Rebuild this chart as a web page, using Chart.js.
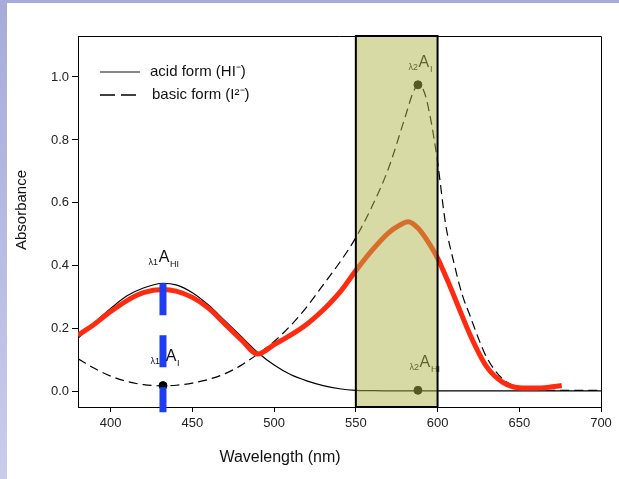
<!DOCTYPE html>
<html>
<head>
<meta charset="utf-8">
<script src="https://cdn.jsdelivr.net/npm/chart.js@4.4.0/dist/chart.umd.min.js"></script>
<style>
body { margin: 0; background: #fff; }
#wrap { width: 619px; height: 479px; }
</style>
</head>
<body>
<div id="wrap"><canvas id="myChart"></canvas></div>
<script>
// acid form (HI-), solid black
const acidWavelengths = [380,390,400,410,420,432,440,450,460,470,480,490,500,510,520,530,540,550,560,580,600,650,700];
const acidForm =        [0.17,0.22,0.265,0.305,0.33,0.345,0.34,0.315,0.275,0.225,0.175,0.125,0.085,0.055,0.035,0.02,0.01,0.005,0.004,0.003,0.003,0.003,0.003];

// basic form (I2-), dashed black
const basicWavelengths = [380,390,400,410,420,432,440,450,460,470,480,490,500,510,520,530,540,550,560,570,580,585,588,592,596,600,605,610,615,620,625,630,640,650,660,680,700];
const basicForm =        [0.105,0.075,0.05,0.033,0.023,0.019,0.021,0.028,0.04,0.058,0.085,0.12,0.16,0.21,0.27,0.34,0.41,0.49,0.59,0.71,0.87,0.95,0.975,0.95,0.86,0.73,0.53,0.41,0.31,0.24,0.17,0.11,0.04,0.015,0.008,0.005,0.005];

// red trace (mixture)
const mixWavelengths = [380,390,400,410,420,432,440,450,460,470,480,490,500,510,520,530,540,550,560,570,577,582,588,595,600,606,612,620,630,640,650,660,670,676];
const mixTrace =       [0.18,0.215,0.255,0.29,0.315,0.325,0.32,0.3,0.265,0.215,0.165,0.12,0.15,0.18,0.215,0.26,0.315,0.385,0.45,0.505,0.53,0.54,0.52,0.47,0.425,0.355,0.28,0.18,0.08,0.03,0.013,0.012,0.016,0.02];

// marked points and the λ1 guide line
const markerX = [432, 588, 588];
const markerY = [0.02, 0.975, 0.005];
const guideX = [432, 432];
const guideY = [0.345, -0.065];

const xTicks = [400, 450, 500, 550, 600, 650, 700];
const yTicks = [0.0, 0.2, 0.4, 0.6, 0.8, 1.0];
const bandRange = [550, 600];

const pts = (xs, ys) => xs.map((x, i) => ({x: x, y: ys[i]}));
const FONT = "'Liberation Sans', Arial, sans-serif";

function drawA(ctx, px, py, pre, sub, gap) {
    ctx.textBaseline = 'alphabetic';
    ctx.font = '16px ' + FONT;
    ctx.textAlign = 'center';
    ctx.fillText('A', px, py);
    ctx.font = '9px ' + FONT;
    ctx.textAlign = 'right';
    ctx.fillText(pre, px - gap, py + 3);
    ctx.textAlign = 'left';
    ctx.fillText(sub, px + 6, py + 5);
}

const decor = {
    id: 'decor',
    beforeDraw(chart) {
        const ctx = chart.ctx;
        let g = ctx.createLinearGradient(0, 0, 0, 479);
        g.addColorStop(0, '#a7abd9');
        g.addColorStop(1, '#c9cceb');
        ctx.save();
        ctx.fillStyle = g;
        ctx.fillRect(0, 0, 7, 479);
        ctx.fillStyle = '#a7abd9';
        ctx.fillRect(0, 0, 619, 3);
        ctx.restore();
    },
    afterDatasetsDraw(chart) {
        const ctx = chart.ctx;
        const xs = chart.scales.x, ys = chart.scales.y;
        const a = chart.chartArea;
        ctx.save();
        // annotations
        ctx.fillStyle = '#111';
        let px = xs.getPixelForValue(432);
        drawA(ctx, px + 1, ys.getPixelForValue(0.345) - 21, 'λ1', 'HI', 6);
        drawA(ctx, px + 8, ys.getPixelForValue(0.02) - 25, 'λ1', 'I', 11);
        px = xs.getPixelForValue(588);
        drawA(ctx, px + 6, ys.getPixelForValue(0.975) - 18, 'λ2', 'I', 6);
        drawA(ctx, px + 7, ys.getPixelForValue(0.005) - 23, 'λ2', 'HI', 6);
        // highlighted band, laid over the curves
        const x1 = xs.getPixelForValue(bandRange[0]);
        const x2 = xs.getPixelForValue(bandRange[1]);
        ctx.fillStyle = 'rgba(173,180,71,0.49)';
        ctx.fillRect(x1, a.top, x2 - x1, a.bottom - a.top);
        ctx.strokeStyle = '#000';
        ctx.lineWidth = 2;
        ctx.strokeRect(x1, a.top, x2 - x1, a.bottom - a.top);
        // frame top / right
        ctx.lineWidth = 1;
        ctx.beginPath();
        ctx.moveTo(a.left, a.top + 0.5);
        ctx.lineTo(a.right + 0.5, a.top + 0.5);
        ctx.lineTo(a.right + 0.5, a.bottom);
        ctx.stroke();
        // legend
        ctx.strokeStyle = '#888';
        ctx.lineWidth = 2;
        ctx.beginPath();
        ctx.moveTo(100, 72); ctx.lineTo(140, 72);
        ctx.stroke();
        ctx.strokeStyle = '#000';
        ctx.lineWidth = 1.5;
        ctx.setLineDash([15, 6]);
        ctx.beginPath();
        ctx.moveTo(100, 95); ctx.lineTo(141, 95);
        ctx.stroke();
        ctx.setLineDash([]);
        ctx.fillStyle = '#111';
        ctx.font = '15px ' + FONT;
        ctx.textAlign = 'left';
        ctx.textBaseline = 'middle';
        ctx.fillText('acid form (HI⁻)', 150, 72);
        ctx.fillText('basic form (I²⁻)', 152, 95);
        // axis titles
        ctx.font = '16px ' + FONT;
        ctx.textAlign = 'center';
        ctx.fillText('Wavelength (nm)', 280, 458);
        ctx.translate(22, 210);
        ctx.rotate(-Math.PI / 2);
        ctx.font = '15px ' + FONT;
        ctx.fillText('Absorbance', 0, 0);
        ctx.restore();
    }
};

const ctx = document.getElementById('myChart').getContext('2d');

const data = {
    datasets: [
        {
            data: pts(guideX, guideY),
            borderColor: '#1e3cf0',
            borderWidth: 7,
            borderDash: [32, 20],
            pointRadius: 0,
            clip: false
        },
        {
            data: pts(mixWavelengths, mixTrace),
            borderColor: '#ff2b10',
            borderWidth: 5,
            pointRadius: 0,
            cubicInterpolationMode: 'monotone'
        },
        {
            data: pts(markerX, markerY),
            showLine: false,
            pointRadius: 4,
            pointBackgroundColor: '#000',
            pointBorderColor: '#000'
        },
        {
            data: pts(acidWavelengths, acidForm),
            borderColor: '#000',
            borderWidth: 1.2,
            pointRadius: 0,
            cubicInterpolationMode: 'monotone'
        },
        {
            data: pts(basicWavelengths, basicForm),
            borderColor: '#000',
            borderWidth: 1.2,
            borderDash: [9, 5],
            pointRadius: 0,
            cubicInterpolationMode: 'monotone'
        }
    ]
};

const config = {
    type: 'line',
    data: data,
    plugins: [decor],
    options: {
        responsive: true,
        maintainAspectRatio: false,
        animation: false,
        layout: { padding: { left: 0, right: 18, top: 36, bottom: 0 } },
        plugins: { legend: { display: false }, tooltip: { enabled: false } },
        scales: {
            x: {
                type: 'linear',
                min: 380,
                max: 700,
                afterBuildTicks: s => { s.ticks = xTicks.map(v => ({value: v})); },
                afterFit: s => { s.height = 72; },
                grid: { drawOnChartArea: false, tickLength: 5, color: '#000' },
                border: { color: '#000', width: 1 },
                ticks: { color: '#222', padding: 4, maxRotation: 0, autoSkip: false,
                         font: { family: FONT, size: 13 } }
            },
            y: {
                min: -0.048,
                max: 1.13,
                afterBuildTicks: s => { s.ticks = yTicks.map(v => ({value: v})); },
                afterFit: s => { s.width = 78; },
                grid: { drawOnChartArea: false, tickLength: 6, color: '#000' },
                border: { color: '#000', width: 1 },
                ticks: { color: '#222', padding: 3, autoSkip: false,
                         font: { family: FONT, size: 13 },
                         callback: v => v.toFixed(1) }
            }
        }
    }
};

const myChart = new Chart(ctx, config);
</script>
</body>
</html>
